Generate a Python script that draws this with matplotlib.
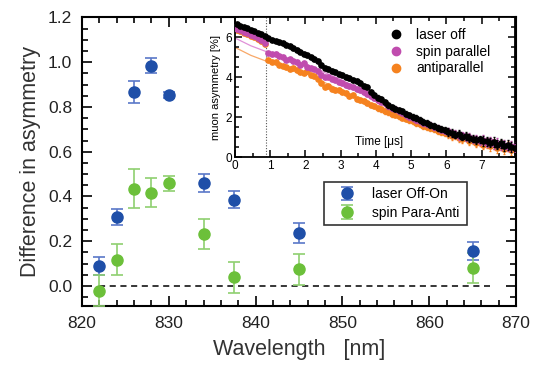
import numpy as np
import matplotlib.pyplot as plt
from matplotlib.lines import Line2D
from matplotlib.ticker import MultipleLocator, FixedLocator

plt.rcParams['font.family'] = ['Liberation Sans', 'DejaVu Sans']

# main panel: asymmetry differences vs wavelength
wavelength = [822, 824, 826, 828, 830, 834, 837.5, 845, 865]
off_on = [0.087, 0.308, 0.868, 0.985, 0.853, 0.461, 0.386, 0.237, 0.154]
off_on_err = [0.04, 0.037, 0.05, 0.035, 0.012, 0.04, 0.04, 0.045, 0.04]
para_anti = [-0.021, 0.117, 0.434, 0.416, 0.458, 0.232, 0.039, 0.075, 0.08]
para_anti_err = [0.07, 0.07, 0.087, 0.065, 0.035, 0.068, 0.07, 0.069, 0.067]

# inset: muon asymmetry time spectra (bins of 0.1 us)
time_us = np.arange(0.05, 8.0, 0.1)
laser_off = [6.65, 6.58, 6.50, 6.45, 6.38, 6.30, 6.22, 6.15, 6.05, 5.95,
             5.88, 5.82, 5.75, 5.70, 5.62, 5.55, 5.45, 5.38, 5.28, 5.18,
             5.10, 5.00, 4.92, 4.80, 4.62, 4.48, 4.42, 4.32, 4.25, 4.15,
             4.10, 4.00, 3.95, 3.88, 3.80, 3.72, 3.55, 3.50, 3.28, 3.12,
             2.98, 2.90, 2.75, 2.60, 2.50, 2.42, 2.35, 2.30, 2.18, 2.10,
             2.02, 1.95, 1.85, 1.78, 1.70, 1.62, 1.55, 1.48, 1.40, 1.35,
             1.25, 1.20, 1.12, 1.15, 1.02, 1.05, 0.95, 0.92, 0.85, 0.88,
             0.80, 0.78, 0.72, 0.75, 0.62, 0.68, 0.55, 0.60, 0.50, 0.45]
spin_parallel = [6.40, 6.35, 6.28, 6.20, 6.12, 6.05, 5.95, 5.85, 5.70, 5.22,
                 5.15, 5.18, 5.05, 5.00, 4.88, 4.92, 4.80, 4.75, 4.62, 4.70,
                 4.52, 4.45, 4.40, 4.30, 4.12, 4.00, 4.02, 3.92, 3.85, 3.78,
                 3.70, 3.62, 3.55, 3.50, 3.40, 3.35, 3.25, 3.18, 3.05, 2.95,
                 2.85, 2.78, 2.70, 2.55, 2.45, 2.40, 2.30, 2.22, 2.10, 2.00,
                 1.95, 1.88, 1.80, 1.72, 1.65, 1.60, 1.50, 1.45, 1.38, 1.30,
                 1.28, 1.18, 1.15, 1.05, 1.08, 0.98, 1.00, 0.88, 0.92, 0.80,
                 0.85, 0.72, 0.78, 0.65, 0.70, 0.58, 0.62, 0.52, 0.55, 0.48]
antiparallel = [6.35, 6.30, 6.22, 6.15, 6.08, 6.00, 5.90, 5.80, 5.65, 4.85,
                4.78, 4.75, 4.62, 4.58, 4.50, 4.42, 4.45, 4.35, 4.28, 4.22,
                4.30, 4.10, 4.05, 3.92, 3.70, 3.52, 3.55, 3.40, 3.35, 3.38,
                3.25, 3.20, 3.05, 3.10, 2.92, 2.85, 2.80, 2.72, 2.62, 2.55,
                2.45, 2.40, 2.30, 2.25, 2.15, 2.12, 2.05, 1.98, 1.92, 1.85,
                1.80, 1.72, 1.65, 1.58, 1.52, 1.48, 1.40, 1.32, 1.25, 1.20,
                1.15, 1.05, 1.10, 0.95, 0.90, 0.98, 0.78, 0.85, 0.70, 0.75,
                0.62, 0.70, 0.55, 0.65, 0.45, 0.60, 0.40, 0.55, 0.35, 0.45]
# error size per 1 us segment
seg_err = [0.06, 0.07, 0.08, 0.1, 0.12, 0.15, 0.19, 0.24]
bin_err = [seg_err[int(t)] for t in time_us]

fit_t = [0, 0.45, 0.9, 2, 3, 4, 5, 6, 7, 8]
fit_parallel = [5.97, 5.58, 5.28, 4.65, 3.90, 2.95, 2.0, 1.28, 0.82, 0.5]
fit_anti = [5.5, 5.1, 4.8, 4.2, 3.35, 2.5, 1.82, 1.2, 0.72, 0.45]
laser_time = 0.88

blue = '#1f4fa8'
green = '#6cc03a'
c_off, c_par, c_anti = 'black', '#c04cae', '#f5821f'

fig = plt.figure(figsize=(5.35, 3.69), dpi=100)
ax = fig.add_axes([0.1533, 0.1707, 0.8112, 0.7819])

ax.errorbar(wavelength, off_on, yerr=off_on_err, fmt='o', color=blue, ms=8,
            ecolor='#5a78c8', elinewidth=1.2, capsize=4, capthick=1.2,
            label='laser Off-On', zorder=3)
ax.errorbar(wavelength, para_anti, yerr=para_anti_err, fmt='o', color=green, ms=8,
            ecolor='#8fd070', elinewidth=1.2, capsize=4, capthick=1.2,
            label='spin Para-Anti', zorder=3)
ax.hlines(0, 822, 867, colors='black', linestyles=(0, (4, 3)), lw=1.1, zorder=2)

ax.set_xlim(820, 870)
ax.set_ylim(-0.09, 1.2)
ax.xaxis.set_major_locator(MultipleLocator(10))
ax.xaxis.set_minor_locator(MultipleLocator(2))
ax.yaxis.set_major_locator(MultipleLocator(0.2))
ax.yaxis.set_minor_locator(MultipleLocator(0.05))
ax.yaxis.set_major_formatter(plt.FormatStrFormatter('%.1f'))
ax.tick_params(which='both', direction='in', top=True, right=True, labelsize=12.5,
               width=1.2, labelcolor='#222222')
ax.tick_params(which='major', length=7, pad=7)
ax.tick_params(which='minor', length=4)
for s in ax.spines.values():
    s.set_linewidth(1.5)
ax.set_xlabel('Wavelength   [nm]', fontsize=15.5, color='#333333', labelpad=6)
ax.set_ylabel('Difference in asymmetry', fontsize=15.5, color='#333333', labelpad=5)

leg = ax.legend(loc='center', bbox_to_anchor=(0.541, 0.275, 0.362, 0.161), mode='expand',
                fontsize=10, frameon=True, fancybox=False, edgecolor='black',
                handletextpad=0.6, borderpad=0.4, labelspacing=0.3, handlelength=2.5)
leg.get_frame().set_linewidth(1.2)

# inset
ins = fig.add_axes([0.4393, 0.5745, 0.5233, 0.3781])
ins.plot(fit_t, fit_parallel, color='#e090d8', lw=0.9, zorder=1)
ins.plot(fit_t, fit_anti, color='#f8a868', lw=0.9, zorder=1)
ins.errorbar(time_us, antiparallel, yerr=bin_err, fmt='o', color=c_anti, ms=3.8,
             elinewidth=0.6, capsize=1, zorder=2)
ins.errorbar(time_us, spin_parallel, yerr=bin_err, fmt='o', color=c_par, ms=3.8,
             elinewidth=0.6, capsize=1, zorder=3)
ins.errorbar(time_us, laser_off, yerr=bin_err, fmt='o', color=c_off, ms=3.8,
             elinewidth=0.6, capsize=1, zorder=4)
ins.axvline(laser_time, color='#555555', ls=(0, (1, 1.5)), lw=0.8, zorder=1)
ins.set_xlim(0, 7.95)
ins.set_ylim(0, 7)
ins.xaxis.set_major_locator(FixedLocator(range(8)))
ins.xaxis.set_minor_locator(MultipleLocator(0.5))
ins.yaxis.set_major_locator(MultipleLocator(2))
ins.yaxis.set_minor_locator(MultipleLocator(0.5))
ins.tick_params(which='both', direction='in', top=True, right=True, labelsize=8.5, pad=2,
                width=1.1)
ins.tick_params(which='major', length=5)
ins.tick_params(which='minor', length=3)
for s in ins.spines.values():
    s.set_linewidth(1.3)
ins.set_ylabel('muon asymmetry [%]', fontsize=8, labelpad=3)
ins.text(4.1, 0.75, 'Time [\u03bcs]', fontsize=8.5, ha='center', va='center')
handles = [Line2D([], [], ls='none', marker='o', ms=6, color=c) for c in (c_off, c_par, c_anti)]
ins.legend(handles, ['laser off', 'spin parallel', 'antiparallel'], loc='upper left',
           bbox_to_anchor=(0.52, 0.985), fontsize=10, frameon=False, handletextpad=0.95,
           labelspacing=0.2, handlelength=1.0, borderaxespad=0.2)

fig.savefig('out.png', dpi=100)
